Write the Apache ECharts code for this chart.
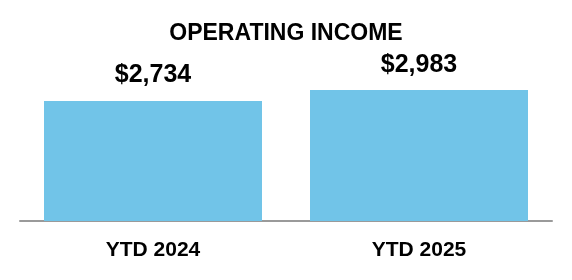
<!DOCTYPE html>
<html>
<head>
<meta charset="utf-8">
<script src="https://cdn.jsdelivr.net/npm/echarts@6/dist/echarts.min.js"></script>
<style>
html,body{margin:0;padding:0;background:#fff;}
#chart{width:572px;height:280px;}
</style>
</head>
<body>
<div id="chart"></div>
<script>
const chartTitle = "OPERATING INCOME";
const categories = ["YTD 2024", "YTD 2025"];
const operatingIncome = [2734, 2983];

const FONT = '"Liberation Sans", Arial, Helvetica, sans-serif';
const chart = echarts.init(document.getElementById('chart'));
chart.setOption({
  animation: false,
  backgroundColor: '#ffffff',
  title: {
    text: chartTitle,
    left: 'center',
    top: 17,
    textStyle: { fontFamily: FONT, fontSize: 23, fontWeight: 'bold', color: '#000' }
  },
  grid: { left: 20, right: 20, top: 45.5, bottom: 59 },
  xAxis: {
    type: 'category',
    data: categories,
    axisLine: { show: true, lineStyle: { color: '#9a9a9a', width: 2 } },
    axisTick: { show: false },
    axisLabel: { margin: 19, fontFamily: FONT, fontSize: 21, fontWeight: 'bold', color: '#000' }
  },
  yAxis: {
    type: 'value',
    min: 0,
    max: 4000,
    show: false,
    splitLine: { show: false }
  },
  series: [{
    type: 'bar',
    data: operatingIncome,
    barWidth: 218,
    itemStyle: { color: '#71C4E8' },
    label: {
      show: true,
      position: 'top',
      distance: 13,
      fontFamily: FONT,
      fontSize: 25,
      fontWeight: 'bold',
      color: '#000',
      formatter: p => '$' + p.value.toLocaleString('en-US')
    }
  }]
});
</script>
</body>
</html>
